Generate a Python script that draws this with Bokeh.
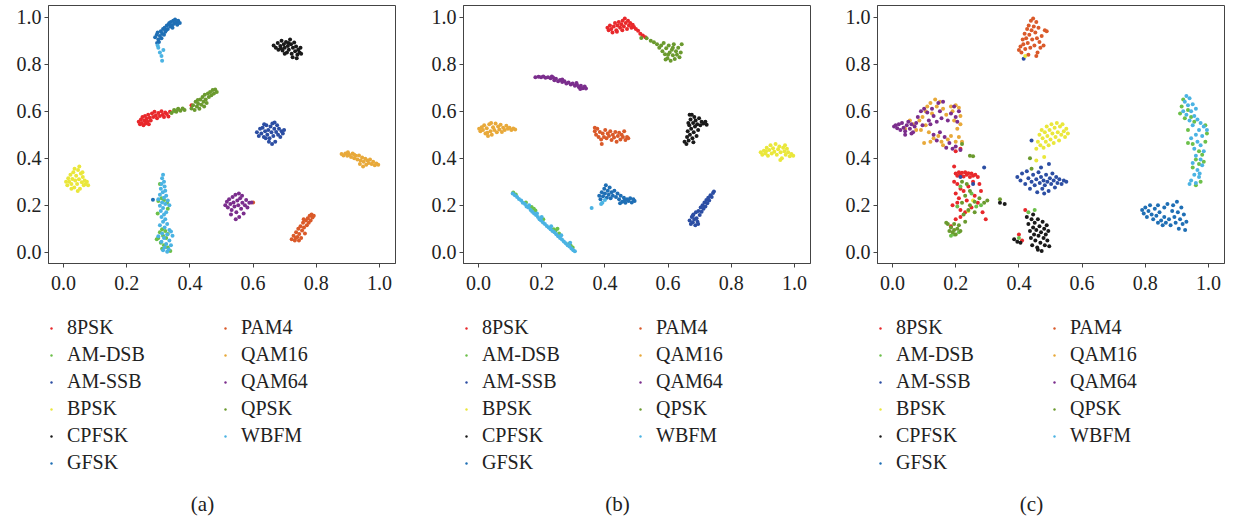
from bokeh.plotting import figure
from bokeh.layouts import row, column
from bokeh.models import Range1d, FixedTicker, PrintfTickFormatter, Legend, LegendItem, Label
from bokeh.embed import file_html
from bokeh.resources import INLINE

CLASSES = ["8PSK", "AM-DSB", "AM-SSB", "BPSK", "CPFSK", "GFSK", "PAM4", "QAM16", "QAM64", "QPSK", "WBFM"]
COLORS = ["#e8282b", "#6cc04a", "#2c4ea3", "#eae73b", "#1a1a1a", "#1f6fb5",
          "#da5a2a", "#e8a93a", "#7b2e8d", "#6b9a2f", "#4bb3e3"]
TICKS = [0.0, 0.2, 0.4, 0.6, 0.8, 1.0]
CAPTIONS = ["(a)", "(b)", "(c)"]

# ---------------- panel (a) ----------------
A_8PSK = [(0.238,0.555),(0.242,0.545),(0.245,0.565),(0.248,0.550),(0.250,0.575),(0.253,0.540),(0.256,0.560),(0.258,0.580),(0.260,0.548),(0.263,0.568),(0.266,0.555),(0.268,0.585),(0.270,0.545),(0.273,0.572),(0.276,0.560),(0.280,0.590),(0.284,0.575),(0.288,0.598),(0.292,0.582),(0.296,0.570),(0.300,0.592),(0.305,0.580),(0.310,0.600),(0.314,0.585),(0.318,0.575),(0.322,0.595),(0.327,0.588),(0.332,0.578),(0.337,0.598),(0.405,0.625)]
A_AMDSB = [(0.305,0.290),(0.300,0.218),(0.318,0.222),(0.328,0.210),(0.310,0.230),(0.298,0.165),(0.330,0.185),(0.312,0.098),(0.322,0.090),(0.305,0.085),(0.330,0.078),(0.300,0.060),(0.315,0.070),(0.325,0.060),(0.308,0.040),(0.318,0.030),(0.312,0.015),(0.330,0.020),(0.338,0.005),(0.295,0.055),(0.350,0.600),(0.360,0.605)]
A_AMSSB = [(0.612,0.510),(0.618,0.495),(0.622,0.525),(0.626,0.505),(0.630,0.530),(0.634,0.490),(0.638,0.515),(0.642,0.540),(0.645,0.500),(0.648,0.520),(0.652,0.485),(0.655,0.535),(0.658,0.510),(0.661,0.548),(0.664,0.495),(0.667,0.525),(0.670,0.470),(0.673,0.512),(0.676,0.540),(0.679,0.500),(0.682,0.525),(0.686,0.490),(0.690,0.515),(0.694,0.505),(0.698,0.520),(0.660,0.460),(0.650,0.470),(0.640,0.485),(0.668,0.552),(0.635,0.545)]
A_BPSK = [(0.008,0.300),(0.012,0.285),(0.015,0.315),(0.018,0.300),(0.022,0.330),(0.025,0.290),(0.028,0.312),(0.031,0.340),(0.034,0.275),(0.037,0.305),(0.040,0.325),(0.043,0.290),(0.046,0.350),(0.049,0.310),(0.052,0.270),(0.055,0.335),(0.058,0.298),(0.061,0.320),(0.064,0.285),(0.067,0.305),(0.070,0.290),(0.074,0.300),(0.078,0.285),(0.050,0.365),(0.045,0.260),(0.035,0.355),(0.060,0.340),(0.025,0.270)]
A_CPFSK = [(0.665,0.880),(0.672,0.870),(0.678,0.890),(0.680,0.862),(0.686,0.878),(0.690,0.900),(0.693,0.858),(0.697,0.885),(0.700,0.870),(0.704,0.895),(0.707,0.850),(0.710,0.878),(0.713,0.862),(0.717,0.905),(0.720,0.885),(0.722,0.845),(0.726,0.870),(0.730,0.892),(0.733,0.855),(0.736,0.875),(0.740,0.840),(0.743,0.862),(0.747,0.850),(0.750,0.870),(0.738,0.825),(0.725,0.830),(0.700,0.845),(0.712,0.890),(0.752,0.845),(0.688,0.868)]
A_GFSK = [(0.290,0.915),(0.295,0.925),(0.300,0.905),(0.298,0.935),(0.305,0.920),(0.308,0.940),(0.312,0.930),(0.315,0.950),(0.318,0.925),(0.320,0.955),(0.325,0.945),(0.327,0.965),(0.330,0.950),(0.333,0.970),(0.338,0.960),(0.340,0.980),(0.343,0.965),(0.347,0.985),(0.350,0.972),(0.353,0.990),(0.357,0.978),(0.360,0.968),(0.363,0.985),(0.345,0.955),(0.302,0.895),(0.310,0.910),(0.296,0.890),(0.322,0.938),(0.335,0.975),(0.368,0.975),(0.283,0.223)]
A_PAM4 = [(0.722,0.055),(0.728,0.070),(0.732,0.050),(0.736,0.085),(0.740,0.065),(0.743,0.100),(0.746,0.078),(0.750,0.110),(0.752,0.060),(0.755,0.092),(0.758,0.125),(0.761,0.105),(0.764,0.080),(0.767,0.135),(0.770,0.115),(0.773,0.145),(0.776,0.125),(0.779,0.155),(0.782,0.135),(0.785,0.160),(0.788,0.148),(0.792,0.155),(0.745,0.050),(0.735,0.060),(0.760,0.140),(0.600,0.212)]
A_QAM16 = [(0.880,0.418),(0.886,0.412),(0.892,0.420),(0.898,0.410),(0.904,0.415),(0.910,0.405),(0.915,0.420),(0.920,0.400),(0.925,0.410),(0.930,0.395),(0.935,0.412),(0.940,0.390),(0.945,0.403),(0.950,0.385),(0.955,0.398),(0.958,0.372),(0.962,0.390),(0.966,0.380),(0.970,0.395),(0.975,0.375),(0.980,0.385),(0.985,0.370),(0.990,0.378),(0.996,0.372),(0.948,0.365),(0.938,0.375),(0.920,0.415),(0.900,0.425)]
A_QAM64 = [(0.512,0.200),(0.517,0.215),(0.520,0.190),(0.524,0.225),(0.528,0.205),(0.532,0.180),(0.535,0.235),(0.538,0.212),(0.541,0.195),(0.544,0.245),(0.547,0.170),(0.550,0.220),(0.553,0.200),(0.556,0.150),(0.559,0.230),(0.562,0.185),(0.566,0.210),(0.570,0.165),(0.574,0.200),(0.578,0.222),(0.582,0.190),(0.588,0.210),(0.595,0.212),(0.545,0.140),(0.555,0.250),(0.530,0.160),(0.565,0.240)]
A_QPSK = [(0.342,0.592),(0.350,0.605),(0.357,0.598),(0.363,0.610),(0.370,0.602),(0.377,0.612),(0.383,0.605),(0.405,0.612),(0.410,0.625),(0.415,0.605),(0.418,0.640),(0.422,0.620),(0.426,0.632),(0.430,0.610),(0.433,0.650),(0.436,0.628),(0.440,0.660),(0.443,0.640),(0.447,0.670),(0.450,0.650),(0.453,0.635),(0.457,0.675),(0.460,0.660),(0.464,0.682),(0.468,0.668),(0.472,0.690),(0.476,0.675),(0.480,0.692),(0.485,0.682),(0.425,0.648),(0.445,0.620)]
A_WBFM = [(0.300,0.870),(0.305,0.850),(0.310,0.835),(0.312,0.815),(0.298,0.880),(0.316,0.860),(0.315,0.330),(0.312,0.315),(0.318,0.300),(0.310,0.290),(0.320,0.280),(0.308,0.270),(0.322,0.262),(0.314,0.255),(0.305,0.245),(0.325,0.240),(0.318,0.232),(0.300,0.225),(0.330,0.220),(0.312,0.212),(0.322,0.205),(0.305,0.198),(0.335,0.200),(0.315,0.188),(0.308,0.175),(0.325,0.170),(0.318,0.160),(0.310,0.150),(0.322,0.140),(0.315,0.130),(0.328,0.120),(0.305,0.115),(0.320,0.105),(0.335,0.095),(0.340,0.088),(0.312,0.080),(0.328,0.075),(0.300,0.068),(0.345,0.070),(0.318,0.060),(0.335,0.050),(0.310,0.045),(0.325,0.035),(0.340,0.030),(0.320,0.020),(0.333,0.012),(0.315,0.008),(0.328,0.002)]

# ---------------- panel (b) ----------------
B_8PSK = [(0.408,0.955),(0.412,0.945),(0.416,0.965),(0.420,0.950),(0.424,0.935),(0.428,0.960),(0.432,0.975),(0.436,0.945),(0.440,0.965),(0.444,0.980),(0.448,0.955),(0.452,0.970),(0.456,0.985),(0.460,0.960),(0.463,0.995),(0.466,0.975),(0.470,0.950),(0.473,0.985),(0.476,0.965),(0.480,0.975),(0.484,0.955),(0.488,0.968),(0.492,0.958),(0.498,0.950),(0.505,0.942),(0.512,0.930),(0.520,0.922),(0.528,0.915),(0.438,0.938),(0.455,0.945)]
B_AMDSB = [(0.110,0.254),(0.118,0.246),(0.168,0.192),(0.175,0.185),(0.180,0.178),(0.238,0.098),(0.244,0.092),(0.250,0.100),(0.286,0.035),(0.292,0.028),(0.298,0.020),(0.255,0.080),(0.205,0.140),(0.150,0.212)]
B_AMSSB = [(0.668,0.135),(0.672,0.120),(0.675,0.150),(0.678,0.128),(0.680,0.160),(0.683,0.140),(0.686,0.115),(0.688,0.170),(0.690,0.145),(0.693,0.130),(0.696,0.175),(0.700,0.158),(0.703,0.190),(0.706,0.172),(0.709,0.200),(0.712,0.185),(0.715,0.212),(0.718,0.195),(0.721,0.222),(0.724,0.208),(0.727,0.232),(0.730,0.220),(0.734,0.242),(0.738,0.235),(0.742,0.252),(0.745,0.258),(0.678,0.155),(0.695,0.120)]
B_BPSK = [(0.893,0.425),(0.898,0.415),(0.903,0.432),(0.908,0.420),(0.912,0.445),(0.916,0.410),(0.920,0.435),(0.924,0.455),(0.928,0.420),(0.932,0.442),(0.936,0.428),(0.940,0.460),(0.944,0.415),(0.948,0.438),(0.952,0.450),(0.956,0.425),(0.960,0.400),(0.964,0.445),(0.968,0.430),(0.972,0.415),(0.976,0.440),(0.980,0.425),(0.985,0.408),(0.990,0.418),(0.996,0.410),(0.955,0.392),(0.970,0.455),(0.910,0.430)]
B_CPFSK = [(0.652,0.470),(0.658,0.460),(0.660,0.490),(0.662,0.515),(0.665,0.475),(0.667,0.540),(0.669,0.500),(0.671,0.565),(0.673,0.525),(0.675,0.585),(0.677,0.485),(0.679,0.550),(0.681,0.510),(0.683,0.575),(0.685,0.535),(0.687,0.560),(0.690,0.495),(0.692,0.545),(0.695,0.520),(0.698,0.570),(0.702,0.540),(0.706,0.555),(0.712,0.548),(0.718,0.555),(0.722,0.542),(0.668,0.585),(0.680,0.468),(0.664,0.550)]
B_GFSK = [(0.382,0.240),(0.386,0.225),(0.390,0.255),(0.394,0.238),(0.398,0.270),(0.400,0.250),(0.403,0.285),(0.406,0.232),(0.409,0.262),(0.412,0.245),(0.415,0.275),(0.418,0.230),(0.421,0.255),(0.425,0.240),(0.430,0.262),(0.435,0.235),(0.440,0.250),(0.445,0.225),(0.450,0.240),(0.455,0.215),(0.460,0.232),(0.465,0.210),(0.470,0.225),(0.475,0.218),(0.480,0.230),(0.485,0.212),(0.490,0.225),(0.494,0.218),(0.463,0.222),(0.448,0.208)]
B_PAM4 = [(0.368,0.515),(0.372,0.500),(0.376,0.525),(0.380,0.490),(0.384,0.512),(0.388,0.480),(0.390,0.460),(0.393,0.505),(0.397,0.490),(0.401,0.520),(0.405,0.485),(0.409,0.505),(0.413,0.495),(0.417,0.515),(0.421,0.478),(0.425,0.500),(0.429,0.488),(0.433,0.512),(0.437,0.470),(0.441,0.495),(0.445,0.508),(0.449,0.480),(0.453,0.500),(0.457,0.490),(0.461,0.515),(0.465,0.478),(0.470,0.490),(0.474,0.485),(0.368,0.530)]
B_QAM16 = [(0.002,0.525),(0.006,0.515),(0.010,0.532),(0.014,0.520),(0.018,0.540),(0.022,0.505),(0.026,0.528),(0.030,0.495),(0.034,0.545),(0.038,0.515),(0.042,0.500),(0.046,0.532),(0.050,0.520),(0.054,0.548),(0.058,0.510),(0.062,0.535),(0.066,0.522),(0.070,0.542),(0.074,0.512),(0.078,0.530),(0.083,0.520),(0.088,0.538),(0.093,0.525),(0.098,0.530),(0.104,0.520),(0.110,0.526),(0.116,0.522),(0.028,0.508),(0.040,0.550)]
B_QAM64 = [(0.180,0.745),(0.190,0.747),(0.198,0.744),(0.205,0.748),(0.212,0.742),(0.220,0.745),(0.228,0.740),(0.236,0.743),(0.240,0.732),(0.245,0.738),(0.252,0.728),(0.258,0.733),(0.265,0.724),(0.272,0.728),(0.278,0.718),(0.285,0.722),(0.292,0.714),(0.298,0.718),(0.305,0.708),(0.312,0.712),(0.318,0.702),(0.324,0.708),(0.330,0.698),(0.336,0.705),(0.340,0.697),(0.322,0.695),(0.310,0.720),(0.265,0.735),(0.232,0.748)]
B_QPSK = [(0.515,0.912),(0.532,0.910),(0.545,0.900),(0.555,0.893),(0.565,0.885),(0.572,0.870),(0.578,0.880),(0.582,0.855),(0.586,0.890),(0.590,0.842),(0.594,0.868),(0.598,0.825),(0.602,0.880),(0.605,0.850),(0.608,0.815),(0.612,0.862),(0.615,0.838),(0.618,0.885),(0.621,0.822),(0.625,0.855),(0.628,0.840),(0.632,0.870),(0.636,0.830),(0.640,0.850),(0.643,0.885),(0.600,0.840),(0.615,0.870),(0.592,0.820)]
B_WBFM = [(0.108,0.250),(0.115,0.242),(0.122,0.235),(0.128,0.226),(0.135,0.220),(0.140,0.210),(0.147,0.205),(0.152,0.195),(0.158,0.190),(0.165,0.180),(0.170,0.172),(0.176,0.165),(0.182,0.158),(0.188,0.150),(0.193,0.140),(0.198,0.135),(0.204,0.126),(0.210,0.120),(0.216,0.112),(0.222,0.105),(0.228,0.098),(0.234,0.090),(0.240,0.085),(0.246,0.076),(0.252,0.068),(0.258,0.060),(0.264,0.054),(0.270,0.046),(0.276,0.038),(0.282,0.030),(0.288,0.024),(0.294,0.016),(0.300,0.008),(0.305,0.004),(0.160,0.200),(0.200,0.150),(0.230,0.110),(0.262,0.072),(0.185,0.165),(0.290,0.040),(0.358,0.188),(0.392,0.210),(0.400,0.222),(0.388,0.205)]

# ---------------- panel (c) ----------------
C_8PSK = [(0.200,0.335),(0.205,0.325),(0.210,0.340),(0.215,0.330),(0.220,0.338),(0.225,0.322),(0.230,0.340),(0.235,0.330),(0.240,0.336),(0.245,0.320),(0.250,0.335),(0.255,0.325),(0.262,0.330),(0.270,0.320),(0.195,0.300),(0.205,0.290),(0.215,0.270),(0.200,0.250),(0.210,0.230),(0.225,0.260),(0.240,0.280),(0.255,0.300),(0.275,0.290),(0.280,0.260),(0.260,0.240),(0.235,0.220),(0.205,0.210),(0.190,0.200),(0.215,0.180),(0.230,0.170),(0.250,0.190),(0.270,0.210),(0.285,0.170),(0.295,0.140),(0.200,0.140),(0.215,0.150),(0.185,0.110),(0.215,0.440),(0.200,0.430),(0.420,0.180),(0.400,0.075),(0.410,0.050),(0.195,0.365)]
C_AMDSB = [(0.250,0.250),(0.265,0.195),(0.215,0.280),(0.205,0.195),(0.280,0.200),(0.195,0.075),(0.210,0.085),(0.185,0.070),(0.450,0.180),(0.430,0.170),(0.400,0.060),(0.920,0.650),(0.915,0.620),(0.935,0.605),(0.925,0.570),(0.945,0.575),(0.910,0.590),(0.955,0.555),(0.935,0.520),(0.990,0.540),(0.995,0.505),(0.935,0.465),(0.950,0.460),(0.990,0.470),(0.970,0.430),(0.980,0.415),(0.960,0.395),(0.985,0.385),(0.970,0.375),(0.960,0.285),(0.975,0.300),(0.950,0.360)]
C_AMSSB = [(0.395,0.320),(0.405,0.305),(0.410,0.335),(0.420,0.290),(0.425,0.345),(0.430,0.315),(0.435,0.270),(0.440,0.300),(0.445,0.330),(0.450,0.285),(0.455,0.310),(0.458,0.255),(0.462,0.340),(0.466,0.295),(0.470,0.320),(0.474,0.270),(0.478,0.305),(0.482,0.285),(0.486,0.330),(0.490,0.300),(0.494,0.260),(0.498,0.315),(0.502,0.290),(0.506,0.335),(0.510,0.305),(0.514,0.275),(0.518,0.320),(0.522,0.295),(0.528,0.310),(0.535,0.290),(0.542,0.305),(0.550,0.300),(0.470,0.360),(0.495,0.375),(0.480,0.250),(0.440,0.475),(0.415,0.823),(0.290,0.360),(0.255,0.290),(0.215,0.320)]
C_BPSK = [(0.455,0.440),(0.460,0.470),(0.465,0.500),(0.468,0.455),(0.472,0.520),(0.475,0.485),(0.478,0.445),(0.482,0.510),(0.485,0.470),(0.488,0.535),(0.490,0.495),(0.494,0.455),(0.497,0.520),(0.500,0.480),(0.503,0.545),(0.506,0.505),(0.510,0.465),(0.513,0.530),(0.516,0.490),(0.520,0.550),(0.523,0.510),(0.527,0.475),(0.530,0.535),(0.534,0.500),(0.538,0.545),(0.542,0.515),(0.546,0.490),(0.550,0.525),(0.555,0.505),(0.480,0.405),(0.455,0.390),(0.240,0.175),(0.255,0.220),(0.420,0.835)]
C_CPFSK = [(0.385,0.055),(0.395,0.045),(0.405,0.040),(0.425,0.150),(0.430,0.120),(0.435,0.090),(0.438,0.060),(0.440,0.140),(0.442,0.030),(0.445,0.105),(0.448,0.075),(0.450,0.125),(0.452,0.050),(0.455,0.095),(0.458,0.020),(0.460,0.140),(0.462,0.070),(0.465,0.110),(0.468,0.040),(0.470,0.085),(0.472,0.005),(0.475,0.130),(0.478,0.060),(0.480,0.100),(0.482,0.030),(0.485,0.075),(0.488,0.115),(0.490,0.050),(0.493,0.090),(0.496,0.025),(0.445,0.160),(0.460,0.010),(0.340,0.210),(0.355,0.205)]
C_GFSK = [(0.790,0.180),(0.795,0.165),(0.800,0.190),(0.805,0.150),(0.810,0.175),(0.815,0.200),(0.820,0.160),(0.825,0.140),(0.830,0.185),(0.835,0.155),(0.840,0.125),(0.845,0.170),(0.850,0.135),(0.855,0.115),(0.860,0.150),(0.865,0.125),(0.870,0.205),(0.875,0.140),(0.880,0.115),(0.885,0.175),(0.888,0.200),(0.892,0.150),(0.896,0.125),(0.900,0.215),(0.903,0.170),(0.906,0.100),(0.910,0.140),(0.914,0.190),(0.918,0.120),(0.922,0.160),(0.926,0.095),(0.930,0.130),(0.860,0.190),(0.840,0.200)]
C_PAM4 = [(0.400,0.860),(0.405,0.875),(0.408,0.850),(0.412,0.905),(0.414,0.885),(0.418,0.930),(0.420,0.865),(0.423,0.910),(0.426,0.950),(0.428,0.890),(0.431,0.965),(0.433,0.925),(0.436,0.870),(0.438,0.985),(0.440,0.945),(0.442,0.905),(0.445,0.995),(0.447,0.960),(0.449,0.880),(0.452,0.935),(0.455,0.980),(0.457,0.910),(0.459,0.850),(0.462,0.955),(0.465,0.895),(0.468,0.870),(0.472,0.920),(0.478,0.880),(0.482,0.945),(0.488,0.940),(0.455,0.835),(0.430,0.840)]
C_QAM16 = [(0.040,0.525),(0.055,0.560),(0.065,0.545),(0.075,0.520),(0.085,0.560),(0.095,0.575),(0.105,0.600),(0.110,0.620),(0.120,0.635),(0.125,0.590),(0.135,0.650),(0.140,0.620),(0.150,0.640),(0.160,0.610),(0.170,0.585),(0.185,0.620),(0.190,0.600),(0.200,0.625),(0.210,0.615),(0.215,0.580),(0.195,0.560),(0.215,0.545),(0.205,0.525),(0.105,0.540),(0.115,0.510),(0.120,0.470),(0.130,0.485),(0.145,0.495),(0.155,0.470),(0.160,0.455),(0.175,0.480),(0.185,0.495),(0.200,0.470),(0.210,0.490),(0.220,0.470),(0.090,0.520),(0.100,0.465)]
C_QAM64 = [(0.005,0.535),(0.010,0.540),(0.015,0.528),(0.020,0.545),(0.025,0.520),(0.030,0.550),(0.035,0.530),(0.040,0.515),(0.045,0.540),(0.050,0.555),(0.055,0.525),(0.060,0.545),(0.065,0.510),(0.070,0.535),(0.075,0.550),(0.040,0.500),(0.060,0.505),(0.080,0.575),(0.090,0.600),(0.095,0.540),(0.100,0.610),(0.110,0.595),(0.115,0.560),(0.120,0.545),(0.125,0.610),(0.130,0.580),(0.140,0.555),(0.145,0.635),(0.150,0.600),(0.155,0.570),(0.160,0.640),(0.175,0.560),(0.185,0.590),(0.195,0.620),(0.200,0.575),(0.205,0.555),(0.210,0.600),(0.130,0.500),(0.140,0.475),(0.150,0.510),(0.165,0.490),(0.180,0.465),(0.190,0.440),(0.200,0.450),(0.170,0.445),(0.215,0.435)]
C_QPSK = [(0.220,0.300),(0.235,0.290),(0.245,0.260),(0.230,0.240),(0.220,0.210),(0.245,0.200),(0.260,0.215),(0.275,0.230),(0.240,0.180),(0.225,0.160),(0.260,0.170),(0.230,0.130),(0.175,0.120),(0.185,0.105),(0.195,0.095),(0.205,0.100),(0.190,0.085),(0.200,0.075),(0.210,0.115),(0.180,0.090),(0.170,0.125),(0.215,0.090),(0.195,0.120),(0.245,0.410),(0.255,0.408),(0.340,0.225),(0.300,0.220),(0.290,0.210),(0.435,0.400),(0.440,0.355),(0.220,0.460)]
C_WBFM = [(0.930,0.665),(0.940,0.655),(0.925,0.640),(0.935,0.625),(0.950,0.630),(0.920,0.600),(0.945,0.600),(0.960,0.610),(0.930,0.585),(0.955,0.580),(0.965,0.565),(0.940,0.560),(0.975,0.550),(0.950,0.540),(0.985,0.535),(0.995,0.520),(0.970,0.520),(0.960,0.500),(0.980,0.495),(0.945,0.485),(0.965,0.470),(0.975,0.455),(0.955,0.440),(0.985,0.430),(0.960,0.410),(0.975,0.395),(0.950,0.380),(0.980,0.370),(0.965,0.350),(0.955,0.330),(0.970,0.320),(0.945,0.305),(0.960,0.295),(0.940,0.290),(0.972,0.335)]

PANEL_A = [A_8PSK, A_AMDSB, A_AMSSB, A_BPSK, A_CPFSK, A_GFSK, A_PAM4, A_QAM16, A_QAM64, A_QPSK, A_WBFM]
PANEL_B = [B_8PSK, B_AMDSB, B_AMSSB, B_BPSK, B_CPFSK, B_GFSK, B_PAM4, B_QAM16, B_QAM64, B_QPSK, B_WBFM]
PANEL_C = [C_8PSK, C_AMDSB, C_AMSSB, C_BPSK, C_CPFSK, C_GFSK, C_PAM4, C_QAM16, C_QAM64, C_QPSK, C_WBFM]

FONT = "Liberation Serif"
MARKER_SIZE = 4.0


def make_panel(series, caption, fig_w, border_left, border_right, x_end):
    # scatter plot
    p = figure(width=fig_w, height=300,
               min_border_left=border_left, min_border_right=border_right,
               min_border_top=5, min_border_bottom=37,
               x_range=Range1d(-0.0475, x_end), y_range=Range1d(-0.048, 1.0498),
               output_backend="svg", toolbar_location=None,
               background_fill_color="white", border_fill_color="white")
    p.grid.visible = False
    p.outline_line_color = "#444444"
    p.outline_line_width = 1
    for ax in (p.xaxis[0], p.yaxis[0]):
        ax.ticker = FixedTicker(ticks=TICKS)
        ax.formatter = PrintfTickFormatter(format="%.1f")
        ax.minor_tick_line_color = None
        ax.major_tick_in = 0
        ax.major_tick_out = 4
        ax.major_tick_line_color = "#444444"
        ax.axis_line_color = "#444444"
        ax.major_label_text_font = FONT
        ax.major_label_text_font_size = "20px"
        ax.major_label_text_color = "#222222"
    p.xaxis[0].major_label_standoff = 8
    p.yaxis[0].major_label_standoff = 3
    for color, pts in zip(COLORS, series):
        xs = [pt[0] for pt in pts]
        ys = [pt[1] for pt in pts]
        p.scatter(xs, ys, size=MARKER_SIZE, color=color, line_color=None)

    # legend + caption area: own figure, no axes; its ranges lie away from the data,
    # so only the legend swatches of these renderers are visible
    q = figure(width=fig_w, height=220, min_border=0,
               x_range=Range1d(10, 11), y_range=Range1d(10, 11),
               x_axis_location=None, y_axis_location=None,
               output_backend="svg", toolbar_location=None,
               background_fill_color="white", border_fill_color="white")
    q.grid.visible = False
    q.outline_line_color = None
    items = []
    for name, color, pts in zip(CLASSES, COLORS, series):
        xs = [pt[0] for pt in pts]
        ys = [pt[1] for pt in pts]
        r = q.scatter(xs, ys, size=4.4, color=color, line_color=None)
        items.append(LegendItem(label=name, renderers=[r]))
    leg = Legend(items=items, location=(0, 46), orientation="vertical", nrows=6,
                 glyph_width=6, glyph_height=20, label_height=20, label_width=151,
                 label_standoff=13, spacing=4, padding=0, margin=0,
                 label_text_font=FONT, label_text_font_size="20px",
                 label_text_color="#222222",
                 background_fill_alpha=0, border_line_color=None)
    q.add_layout(leg, "center")
    q.add_layout(Label(x=154, y=17, x_units="screen", y_units="screen", text=caption,
                       text_align="center", text_baseline="middle",
                       text_font=FONT, text_font_size="21px", text_color="#222222"))
    return column(p, q, spacing=0)


pa = make_panel(PANEL_A, CAPTIONS[0], 414, 48, 19, 1.0506)
pb = make_panel(PANEL_B, CAPTIONS[1], 414, 49, 18, 1.0506)
pc = make_panel(PANEL_C, CAPTIONS[2], 405, 49, 9, 1.0506)

layout = row(pa, pb, pc, spacing=0)
open("out.html", "w").write(file_html(layout, INLINE))
